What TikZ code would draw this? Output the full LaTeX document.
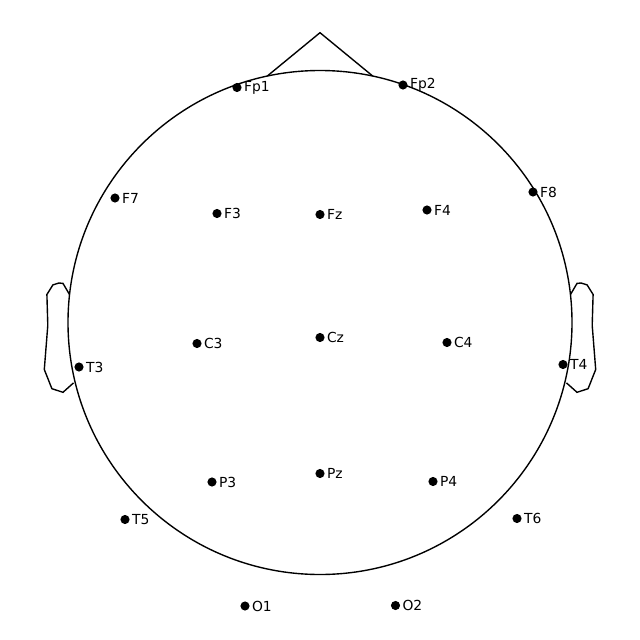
\documentclass[tikz,border=0pt]{standalone}
\usepackage{fontspec}
\setmainfont{DejaVu Sans}
\usetikzlibrary{positioning,calc}

\begin{document}
\begin{tikzpicture}[
  x=0.01in, y=-0.01in, line width=1pt,
  font=\fontsize{10}{12}\selectfont,
  elec/.style={circle, fill=black, inner sep=0pt, minimum size=6.6pt},
  lbl/.style={anchor=west, inner sep=0pt},
  outline/.style={draw=black, line width=1pt, line join=miter},
]
  \useasboundingbox (0,0) rectangle (640,640);
  % head, nose, ears
  \coordinate (C) at (320,322.5);
  \draw[outline] (C) circle (252);
  \draw[outline] ($(C)+(-52.8,-246.4)$) -- ($(C)+(0,-289.8)$) -- ($(C)+(52.8,-246.4)$);
  \foreach \s in {1,-1} {
    \draw[outline, shift={(C)}, xscale=\s]
      (250.5,-28.0) -- (257.0,-39.1) -- (261.1,-39.5) -- (267.1,-37.6) -- (273.1,-28.0)
      -- (272.2,2.8) -- (275.7,47.0) -- (268.1,66.2) -- (257.0,69.8) -- (246.5,60.4);
  }
  % electrodes
  \foreach \n/\x/\y in {Fp1/237/87.5, Fp2/403/85, F7/115/198, F3/217/213.5, Fz/320/214.5,
      F4/427/210, F8/533/192, T3/79/367, C3/197/343.5, Cz/320/337.5, C4/447/342.5,
      T4/563/364.5, T5/125/519.5, P3/212/482, Pz/320/473.5, P4/433/481.5,
      T6/517/518.5, O1/245/606, O2/395.5/605.5} {
    \node[elec] (\n) at (\x,\y) {};
    \node[lbl] (\n-l) at ([xshift=4.6pt]\n.center) {\n};
  }
\end{tikzpicture}
\end{document}
